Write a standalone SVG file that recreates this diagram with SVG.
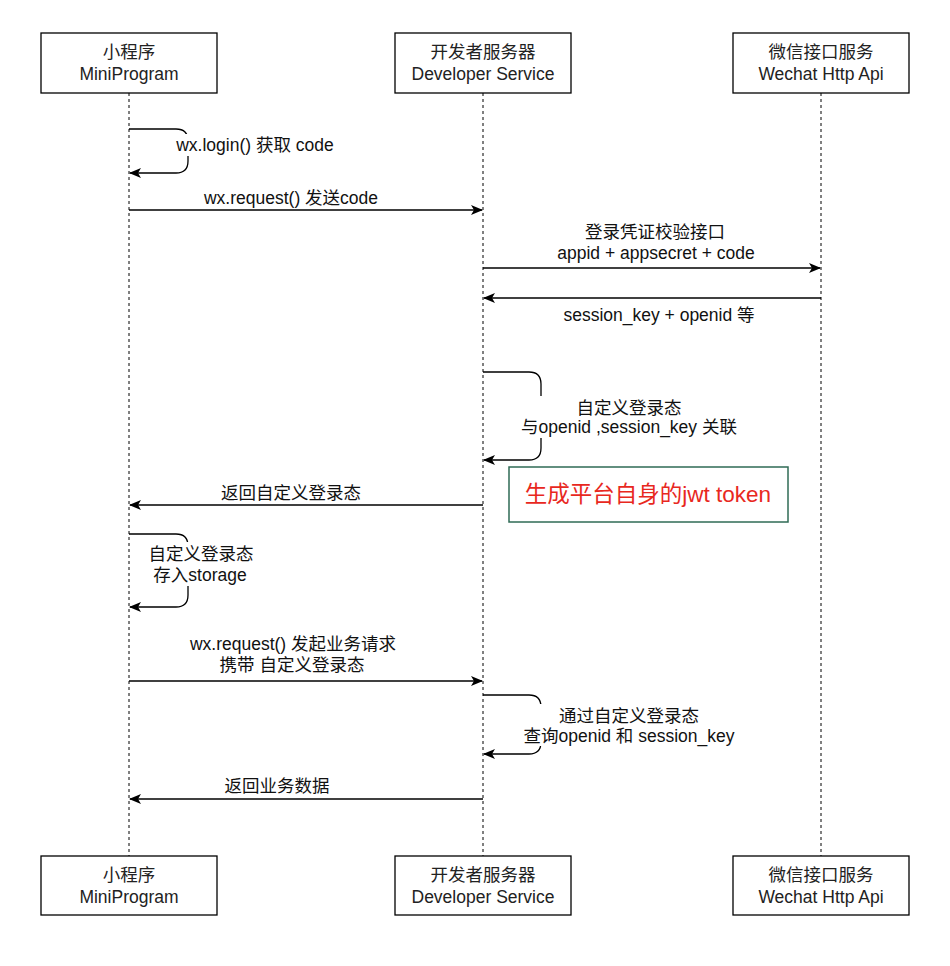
<svg xmlns="http://www.w3.org/2000/svg" width="950" height="966" viewBox="0 0 950 966">
<style>
.box{fill:#fff;stroke:#000;stroke-width:1.3}
.life{stroke:#000;stroke-width:1;stroke-dasharray:3 3;fill:none}
.msg{stroke:#000;stroke-width:1.3;fill:none;marker-end:url(#arr)}
.t{font-family:"Liberation Sans","Noto Sans CJK SC",sans-serif;font-size:17.5px;fill:#111;text-anchor:middle}
.bt{font-family:"Liberation Sans","Noto Sans CJK SC",sans-serif;font-size:17.5px;fill:#222;text-anchor:middle}
.bg{fill:#fff}
</style>
<defs>
<marker id="arr" viewBox="0 0 12 10" refX="11" refY="5" markerWidth="12" markerHeight="10" markerUnits="userSpaceOnUse" orient="auto">
<path d="M0,0 L12,5 L0,10 L3,5 Z" fill="#000"/>
</marker>
</defs>
<g id="lifelines">
<line class="life" x1="129" y1="93" x2="129" y2="856"/>
<line class="life" x1="483" y1="93" x2="483" y2="856"/>
<line class="life" x1="821" y1="93" x2="821" y2="856"/>
</g>
<g id="node-mini-top"><rect class="box" x="41" y="33" width="176" height="60"/><text class="bt" x="129" y="58">小程序</text><text class="bt" x="129" y="80">MiniProgram</text></g>
<g id="node-dev-top"><rect class="box" x="395" y="33" width="176" height="60"/><text class="bt" x="483" y="58">开发者服务器</text><text class="bt" x="483" y="80">Developer Service</text></g>
<g id="node-wx-top"><rect class="box" x="733" y="33" width="176" height="60"/><text class="bt" x="821" y="58">微信接口服务</text><text class="bt" x="821" y="80">Wechat Http Api</text></g>
<g id="node-mini-bot"><rect class="box" x="41" y="856" width="176" height="59"/><text class="bt" x="129" y="881">小程序</text><text class="bt" x="129" y="903">MiniProgram</text></g>
<g id="node-dev-bot"><rect class="box" x="395" y="856" width="176" height="59"/><text class="bt" x="483" y="881">开发者服务器</text><text class="bt" x="483" y="903">Developer Service</text></g>
<g id="node-wx-bot"><rect class="box" x="733" y="856" width="176" height="59"/><text class="bt" x="821" y="881">微信接口服务</text><text class="bt" x="821" y="903">Wechat Http Api</text></g>
<g id="connectors">
<path class="msg" d="M129,129 H176 Q188,129 188,141 V161 Q188,173 176,173 H130"/>
<rect class="bg" x="174" y="134" width="163" height="22"/>
<text class="t" x="255" y="151">wx.login() 获取 code</text>
<path class="msg" d="M129,210 H482"/>
<text class="t" x="291" y="204">wx.request() 发送code</text>
<path class="msg" d="M483,268 H820"/>
<text class="t" x="655" y="238">登录凭证校验接口</text>
<text class="t" x="656" y="259">appid + appsecret + code</text>
<path class="msg" d="M821,298 H484"/>
<text class="t" x="659" y="321">session_key + openid 等</text>
<path class="msg" d="M483,372 H529 Q541,372 541,384 V448 Q541,460 529,460 H484"/>
<rect class="bg" x="514" y="396" width="230" height="42"/>
<text class="t" x="629" y="414">自定义登录态</text>
<text class="t" x="629" y="433">与openid ,session_key 关联</text>
<path class="msg" d="M483,505 H130"/>
<text class="t" x="291" y="499">返回自定义登录态</text>
<path class="msg" d="M129,534 H176 Q188,534 188,546 V595 Q188,607 176,607 H130"/>
<rect class="bg" x="145" y="542" width="114" height="44"/>
<text class="t" x="201" y="560">自定义登录态</text>
<text class="t" x="200" y="581">存入storage</text>
<path class="msg" d="M129,681 H482"/>
<text class="t" x="293" y="650">wx.request() 发起业务请求</text>
<text class="t" x="292" y="671">携带 自定义登录态</text>
<path class="msg" d="M483,695 H529 Q541,695 541,707 V742 Q541,754 529,754 H484"/>
<rect class="bg" x="516" y="704" width="226" height="42"/>
<text class="t" x="629" y="722">通过自定义登录态</text>
<text class="t" x="629" y="742">查询openid 和 session_key</text>
<path class="msg" d="M483,799 H130"/>
<text class="t" x="277" y="792">返回业务数据</text>
</g>
<g id="note-jwt">
<rect x="509" y="467" width="279" height="55" fill="#fff" stroke="#2f6b55" stroke-width="1.5"/>
<text x="648" y="502" font-family="'Liberation Sans','Noto Sans CJK SC',sans-serif" font-size="22.5" fill="#e8281e" text-anchor="middle">生成平台自身的jwt token</text>
</g>
</svg>
